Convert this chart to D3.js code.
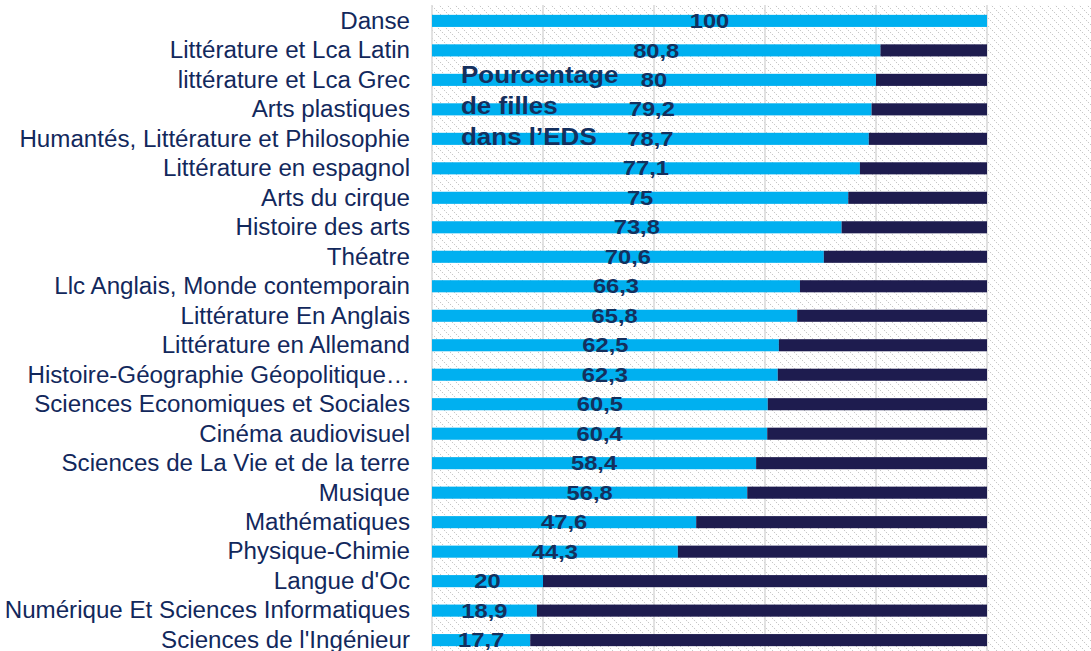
<!DOCTYPE html>
<html>
<head>
<meta charset="utf-8">
<script src="https://cdn.jsdelivr.net/npm/d3@7"></script>
<style>
  body { margin: 0; background: #fff; }
  svg { display: block; font-family: "Liberation Sans", Arial, sans-serif; }
</style>
</head>
<body>
<div id="chart"></div>
<script>
var categories = ["Danse", "Littérature et Lca Latin", "littérature et Lca Grec", "Arts plastiques",
    "Humantés, Littérature et Philosophie", "Littérature en espagnol", "Arts du cirque", "Histoire des arts",
    "Théatre", "Llc Anglais, Monde contemporain", "Littérature En Anglais", "Littérature en Allemand",
    "Histoire-Géographie Géopolitique…", "Sciences Economiques et Sociales", "Cinéma audiovisuel",
    "Sciences de La Vie et de la terre", "Musique", "Mathématiques", "Physique-Chimie", "Langue d'Oc",
    "Numérique Et Sciences Informatiques", "Sciences de l'Ingénieur"];
var filles = [100, 80.8, 80, 79.2, 78.7, 77.1, 75, 73.8, 70.6, 66.3, 65.8, 62.5, 62.3, 60.5, 60.4, 58.4, 56.8, 47.6, 44.3, 20, 18.9, 17.7];
var garcons = [0, 19.2, 20, 20.8, 21.3, 22.9, 25, 26.2, 29.4, 33.7, 34.2, 37.5, 37.7, 39.5, 39.6, 41.6, 43.2, 52.4, 55.7, 80, 81.1, 82.3];
var xTicks = [0, 20, 40, 60, 80, 100, 120];
var titleLines = ["Pourcentage", "de filles", "dans l’EDS"];

var W = 1091, H = 651;
var margin = {top: 6, right: -7, bottom: -4, left: 432},
    width = W - margin.left - margin.right,
    height = H - margin.top - margin.bottom;
// the labels in the picture are drawn a little wider than they are tall
var catStretch = 1.05, valStretch = 1.13;

var svg = d3.select("#chart").append("svg")
    .attr("width", W)
    .attr("height", H);

var defs = svg.append("defs");
var pat = defs.append("pattern")
    .attr("id", "hatch")
    .attr("patternUnits", "userSpaceOnUse")
    .attr("width", 8)
    .attr("height", 8);
pat.append("path")
    .attr("d", "M-2,-2 L10,10 M-6,2 L2,10 M6,-6 L14,2")
    .attr("stroke", "#c4c4c4")
    .attr("stroke-width", 1)
    .attr("stroke-dasharray", "1.4,1.4");

var g = svg.append("g")
    .attr("transform", "translate(" + margin.left + "," + margin.top + ")");

var x = d3.scaleLinear().domain([0, 120]).range([0, width]);
var y = d3.scaleBand().domain(categories).range([0, height]).paddingInner(0.59).paddingOuter(0.3);

g.append("rect")
    .attr("x", 0).attr("y", -1)
    .attr("width", width).attr("height", height + 1)
    .attr("fill", "url(#hatch)");

g.append("g")
    .selectAll("line")
    .data(xTicks)
    .enter().append("line")
    .attr("x1", d => x(d)).attr("x2", d => x(d))
    .attr("y1", -1).attr("y2", height)
    .attr("stroke", "#d9d9d9")
    .attr("stroke-width", 1.5);

var rows = categories.map((c, i) => ({cat: c, f: filles[i], g: garcons[i]}));

g.append("g").selectAll("rect")
    .data(rows).enter().append("rect")
    .attr("x", x(0))
    .attr("y", d => y(d.cat))
    .attr("width", d => x(d.f) - x(0))
    .attr("height", y.bandwidth())
    .attr("fill", "#00b0f0");

g.append("g").selectAll("rect")
    .data(rows).enter().append("rect")
    .attr("x", d => x(d.f))
    .attr("y", d => y(d.cat))
    .attr("width", d => x(d.f + d.g) - x(d.f))
    .attr("height", y.bandwidth())
    .attr("fill", "#1e1c4f");

var yAxis = d3.axisLeft(y).tickSize(0).tickPadding(0);
var ya = g.append("g").call(yAxis);
ya.select(".domain").remove();
ya.selectAll("text")
    .attr("font-size", 23)
    .attr("fill", "#12285c")
    .attr("font-family", "Liberation Sans, Arial, sans-serif")
    .attr("x", -22 / catStretch)
    .attr("dy", "0.34em")
    .attr("transform", "scale(" + catStretch + ",1)");

g.append("g").selectAll("text")
    .data(rows).enter().append("text")
    .attr("transform", d => "translate(" + x(d.f / 2) + "," + (y(d.cat) + y.bandwidth() / 2) + ") scale(" + valStretch + ",1)")
    .attr("dy", "0.34em")
    .attr("text-anchor", "middle")
    .attr("font-size", 21)
    .attr("font-weight", "bold")
    .attr("fill", "#14305e")
    .text(d => String(d.f).replace(".", ","));

svg.append("text")
    .attr("transform", "translate(461,83) scale(" + valStretch + ",1)")
    .attr("font-size", 23)
    .attr("font-weight", "bold")
    .attr("fill", "#14305e")
    .selectAll("tspan")
    .data(titleLines).enter().append("tspan")
    .attr("x", 0)
    .attr("dy", (d, i) => i === 0 ? 0 : 31)
    .text(d => d);
</script>
</body>
</html>
